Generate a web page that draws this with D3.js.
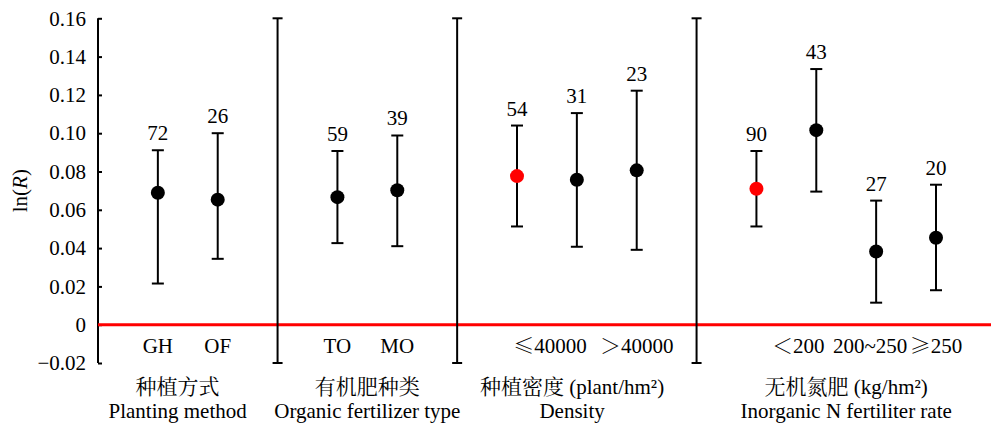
<!DOCTYPE html>
<html>
<head>
<meta charset="utf-8">
<script src="https://cdn.jsdelivr.net/npm/d3@7/dist/d3.min.js"></script>
<style>
  body { margin: 0; background: #fff; }
  text { font-family: "Liberation Serif", "Noto Serif CJK SC", serif; fill: #000; }
  .cjk { font-family: "Noto Serif CJK SC", "Noto Sans CJK SC", serif; }
</style>
</head>
<body>
<div id="chart"></div>
<script>
// --- Data ---
const categories = ["GH", "OF", "TO", "MO", "D1", "D2", "D3", "N1", "N2", "N3", "N4"];
const slots      = [0, 1, 3, 4, 6, 7, 8, 10, 11, 12, 13];   // category slot on the x axis
const means      = [0.0689, 0.0653, 0.0666, 0.0702, 0.0776, 0.0757, 0.0806, 0.0710, 0.1016, 0.0382, 0.0454];
const lower      = [0.0215, 0.0344, 0.0426, 0.0410, 0.0513, 0.0407, 0.0391, 0.0513, 0.0695, 0.0115, 0.0180];
const upper      = [0.0911, 0.1000, 0.0907, 0.0988, 0.1040, 0.1105, 0.1222, 0.0907, 0.1335, 0.0648, 0.0731];
const counts     = [72, 26, 59, 39, 54, 31, 23, 90, 43, 27, 20];
const highlight  = [false, false, false, false, true, false, false, true, false, false, false];

const separators = [2, 5, 9];

// symbol prefix (drawn with the CJK font) + rest of the label
const tickSymbols = ["", "", "", "", "≤", "＞", "＜", "", "≥"];
const tickLabels  = ["GH", "OF", "TO", "MO", "40000", "40000", "200", "200~250", "250"];
const tickSlots   = [0, 1, 3, 4, 6.55, 8, 10.7, 11.9, 13];

const groupCn    = ["种植方式", "有机肥种类", "种植密度", "无机氮肥"];
const groupUnit  = ["", "", " (plant/hm²)", " (kg/hm²)"];
const groupEn    = ["Planting method", "Organic fertilizer type", "Density", "Inorganic N fertiliter rate"];
const groupSlots = [0.33, 3.5, 6.92, 11.5];

const yTicks = [-0.02, 0, 0.02, 0.04, 0.06, 0.08, 0.10, 0.12, 0.14, 0.16];

// --- Setup ---
const width = 991, height = 424;
const fs = 21;
const svg = d3.select("#chart").append("svg")
    .attr("width", width)
    .attr("height", height);

const x = d3.scaleLinear().domain([-1, 13]).range([98, 936]);
const y = d3.scaleLinear().domain([-0.02, 0.16]).range([363, 18.3]);

// --- Y axis ---
const yAxis = d3.axisLeft(y)
    .tickValues(yTicks)
    .tickSize(-4)
    .tickPadding(12)
    .tickFormat(d => d === 0 ? "0" : d3.format(".2f")(d).replace("-", "−"));

const gy = svg.append("g")
    .attr("transform", `translate(${x(-1)},0)`)
    .call(yAxis);
gy.select(".domain").remove();
gy.selectAll(".tick line").attr("stroke", "#000").attr("stroke-width", 2);
gy.selectAll(".tick text").attr("font-size", fs);
gy.append("line")
    .attr("y1", y(-0.02)).attr("y2", y(0.16))
    .attr("stroke", "#000").attr("stroke-width", 2);

svg.append("text")
    .attr("transform", `translate(27,${y(0.07)}) rotate(-90)`)
    .attr("text-anchor", "middle")
    .attr("font-size", fs)
    .html('ln(<tspan font-style="italic">R</tspan>)');

// --- Zero line ---
svg.append("line")
    .attr("x1", x(-1)).attr("x2", width)
    .attr("y1", y(0)).attr("y2", y(0))
    .attr("stroke", "#ff0000")
    .attr("stroke-width", 3);

// --- Group separators ---
const sep = svg.append("g").selectAll("g")
    .data(separators)
    .enter().append("g")
    .attr("stroke", "#000")
    .attr("stroke-width", 2);
sep.append("line")
    .attr("x1", d => x(d)).attr("x2", d => x(d))
    .attr("y1", y(0.16)).attr("y2", y(-0.02));
sep.append("line")
    .attr("x1", d => x(d) - 5).attr("x2", d => x(d) + 5)
    .attr("y1", y(0.16)).attr("y2", y(0.16));
sep.append("line")
    .attr("x1", d => x(d) - 5).attr("x2", d => x(d) + 5)
    .attr("y1", y(-0.02)).attr("y2", y(-0.02));

// --- Error bars and points ---
const idx = d3.range(categories.length);
const bars = svg.append("g").selectAll("g")
    .data(idx)
    .enter().append("g")
    .attr("stroke", "#000")
    .attr("stroke-width", 2);
bars.append("line")
    .attr("x1", i => x(slots[i])).attr("x2", i => x(slots[i]))
    .attr("y1", i => y(upper[i])).attr("y2", i => y(lower[i]));
bars.append("line")
    .attr("x1", i => x(slots[i]) - 6).attr("x2", i => x(slots[i]) + 6)
    .attr("y1", i => y(upper[i])).attr("y2", i => y(upper[i]));
bars.append("line")
    .attr("x1", i => x(slots[i]) - 6).attr("x2", i => x(slots[i]) + 6)
    .attr("y1", i => y(lower[i])).attr("y2", i => y(lower[i]));

svg.append("g").selectAll("circle")
    .data(idx)
    .enter().append("circle")
    .attr("cx", i => x(slots[i]))
    .attr("cy", i => y(means[i]))
    .attr("r", 7)
    .attr("fill", i => highlight[i] ? "#ff0000" : "#000");

svg.append("g").selectAll("text")
    .data(idx)
    .enter().append("text")
    .attr("x", i => x(slots[i]))
    .attr("y", i => y(upper[i]) - 10)
    .attr("text-anchor", "middle")
    .attr("font-size", fs)
    .text(i => counts[i]);

// --- Category tick labels ---
const tl = svg.append("g").selectAll("text")
    .data(tickLabels)
    .enter().append("text")
    .attr("x", (d, i) => x(tickSlots[i]))
    .attr("y", 353)
    .attr("text-anchor", "middle")
    .attr("font-size", fs);
tl.append("tspan").attr("class", "cjk")
    .text((d, i) => tickSymbols[i]);
tl.append("tspan").text(d => d);

// --- Group labels ---
const groups = svg.append("g").selectAll("g")
    .data(groupCn)
    .enter().append("g");
const cn = groups.append("text")
    .attr("x", (d, i) => x(groupSlots[i]))
    .attr("y", 394)
    .attr("text-anchor", "middle")
    .attr("font-size", fs);
cn.append("tspan").attr("class", "cjk").text(d => d);
cn.append("tspan").text((d, i) => groupUnit[i]);
groups.append("text")
    .attr("x", (d, i) => x(groupSlots[i]))
    .attr("y", 418)
    .attr("text-anchor", "middle")
    .attr("font-size", fs)
    .text((d, i) => groupEn[i]);
</script>
</body>
</html>
